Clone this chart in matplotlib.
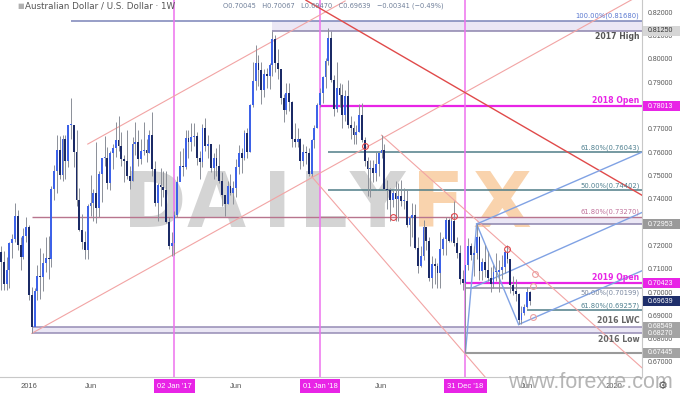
import numpy as np
import pandas as pd
import matplotlib
matplotlib.use("Agg")
import matplotlib.pyplot as plt
import matplotlib.dates as mdates
from matplotlib.patches import Rectangle
from matplotlib.transforms import blended_transform_factory

# ---------------- data (weekly AUD/USD, bars dated Monday) ----------------
first_week = "2015-10-19"
first_open = 0.7290
high_2015 = [0.7310, 0.7200, 0.7180, 0.7155, 0.7220, 0.7255, 0.7385, 0.7355, 0.7240, 0.7280, 0.7325]
low_2015 = [0.7145, 0.7015, 0.7015, 0.7015, 0.7020, 0.7150, 0.7220, 0.7185, 0.7100, 0.7145, 0.7220]
close_2015 = [0.7175, 0.7135, 0.7040, 0.7100, 0.7215, 0.7230, 0.7330, 0.7205, 0.7155, 0.7245, 0.7285]

high_2016 = [0.7290, 0.7025, 0.7020, 0.7120, 0.7195, 0.7170, 0.7240, 0.7245, 0.7460, 0.7550, 0.7680, 0.7675, 0.7680,
             0.7680, 0.7720, 0.7835, 0.7720, 0.7700, 0.7450, 0.7340, 0.7265, 0.7380, 0.7505, 0.7445, 0.7650, 0.7525,
             0.7570, 0.7675, 0.7625, 0.7610, 0.7640, 0.7735, 0.7758, 0.7690, 0.7590, 0.7700, 0.7545, 0.7670, 0.7735,
             0.7700, 0.7660, 0.7735, 0.7660, 0.7700, 0.7778, 0.7565, 0.7470, 0.7535, 0.7525, 0.7525, 0.7325, 0.7260]
low_2016 = [0.6970, 0.6827, 0.6865, 0.6970, 0.6975, 0.7010, 0.7090, 0.7060, 0.7110, 0.7400, 0.7430, 0.7490, 0.7480,
            0.7490, 0.7540, 0.7660, 0.7540, 0.7375, 0.7265, 0.7190, 0.7145, 0.7145, 0.7330, 0.7310, 0.7300, 0.7325,
            0.7390, 0.7545, 0.7445, 0.7440, 0.7530, 0.7585, 0.7610, 0.7545, 0.7475, 0.7490, 0.7445, 0.7480, 0.7590,
            0.7545, 0.7555, 0.7590, 0.7560, 0.7600, 0.7500, 0.7375, 0.7310, 0.7375, 0.7410, 0.7300, 0.7190, 0.7160]
close_2016 = [0.6990, 0.6855, 0.7010, 0.7075, 0.7070, 0.7130, 0.7150, 0.7145, 0.7445, 0.7525, 0.7615, 0.7505, 0.7660,
              0.7565, 0.7720, 0.7720, 0.7605, 0.7400, 0.7270, 0.7220, 0.7185, 0.7375, 0.7385, 0.7430, 0.7365, 0.7510,
              0.7580, 0.7580, 0.7470, 0.7600, 0.7620, 0.7655, 0.7630, 0.7575, 0.7565, 0.7500, 0.7480, 0.7640, 0.7650,
              0.7575, 0.7610, 0.7615, 0.7600, 0.7680, 0.7530, 0.7385, 0.7465, 0.7455, 0.7440, 0.7305, 0.7200, 0.7215]

high_2017 = [0.7350, 0.7500, 0.7610, 0.7620, 0.7700, 0.7700, 0.7730, 0.7730, 0.7690, 0.7610, 0.7725, 0.7750, 0.7680,
             0.7640, 0.7600, 0.7620, 0.7640, 0.7520, 0.7420, 0.7480, 0.7510, 0.7480, 0.7575, 0.7635, 0.7620, 0.7700,
             0.7710, 0.7810, 0.7990, 0.8065, 0.8020, 0.7990, 0.7960, 0.7965, 0.7985, 0.8125, 0.8105, 0.8045, 0.7960,
             0.7855, 0.7900, 0.7900, 0.7825, 0.7730, 0.7710, 0.7665, 0.7640, 0.7630, 0.7620, 0.7660, 0.7720, 0.7815]
low_2017 = [0.7165, 0.7325, 0.7480, 0.7500, 0.7530, 0.7580, 0.7610, 0.7630, 0.7550, 0.7490, 0.7540, 0.7610, 0.7580,
            0.7520, 0.7490, 0.7500, 0.7470, 0.7375, 0.7330, 0.7380, 0.7420, 0.7380, 0.7410, 0.7510, 0.7515, 0.7570,
            0.7580, 0.7605, 0.7800, 0.7870, 0.7890, 0.7810, 0.7840, 0.7880, 0.7875, 0.7930, 0.7950, 0.7920, 0.7810,
            0.7735, 0.7770, 0.7780, 0.7625, 0.7625, 0.7625, 0.7530, 0.7545, 0.7555, 0.7500, 0.7500, 0.7620, 0.7710]
close_2017 = [0.7335, 0.7475, 0.7545, 0.7540, 0.7665, 0.7650, 0.7670, 0.7675, 0.7580, 0.7560, 0.7710, 0.7630, 0.7640,
              0.7535, 0.7580, 0.7545, 0.7480, 0.7420, 0.7380, 0.7460, 0.7430, 0.7450, 0.7540, 0.7600, 0.7580, 0.7685,
              0.7605, 0.7805, 0.7910, 0.7985, 0.7955, 0.7870, 0.7940, 0.7930, 0.7980, 0.8090, 0.7985, 0.7960, 0.7835,
              0.7785, 0.7860, 0.7820, 0.7660, 0.7650, 0.7660, 0.7565, 0.7605, 0.7600, 0.7510, 0.7655, 0.7710, 0.7805]

high_2018 = [0.7880, 0.7930, 0.8010, 0.8136, 0.8125, 0.7935, 0.7990, 0.7900, 0.7895, 0.7870, 0.7915, 0.7760, 0.7740,
             0.7720, 0.7810, 0.7815, 0.7670, 0.7585, 0.7570, 0.7570, 0.7605, 0.7605, 0.7677, 0.7640, 0.7485, 0.7450,
             0.7440, 0.7480, 0.7470, 0.7485, 0.7450, 0.7445, 0.7330, 0.7385, 0.7380, 0.7240, 0.7200, 0.7315, 0.7280,
             0.7240, 0.7160, 0.7150, 0.7130, 0.7260, 0.7240, 0.7325, 0.7320, 0.7340, 0.7394, 0.7240, 0.7205, 0.7100,
             0.7080]
low_2018 = [0.7800, 0.7815, 0.7880, 0.7980, 0.7905, 0.7760, 0.7775, 0.7800, 0.7710, 0.7740, 0.7710, 0.7660, 0.7640,
            0.7640, 0.7690, 0.7650, 0.7545, 0.7415, 0.7410, 0.7475, 0.7480, 0.7500, 0.7580, 0.7440, 0.7360, 0.7310,
            0.7370, 0.7310, 0.7310, 0.7375, 0.7360, 0.7285, 0.7200, 0.7240, 0.7190, 0.7085, 0.7110, 0.7140, 0.7185,
            0.7050, 0.7020, 0.7040, 0.7020, 0.7020, 0.7165, 0.7165, 0.7220, 0.7220, 0.7200, 0.7150, 0.7040, 0.7015,
            0.6744]
close_2018 = [0.7860, 0.7925, 0.7995, 0.8095, 0.7915, 0.7790, 0.7880, 0.7850, 0.7765, 0.7845, 0.7720, 0.7710, 0.7680,
              0.7690, 0.7765, 0.7655, 0.7565, 0.7530, 0.7535, 0.7515, 0.7555, 0.7600, 0.7615, 0.7445, 0.7440, 0.7400,
              0.7430, 0.7405, 0.7415, 0.7395, 0.7395, 0.7290, 0.7320, 0.7335, 0.7195, 0.7115, 0.7160, 0.7285, 0.7225,
              0.7065, 0.7125, 0.7115, 0.7085, 0.7190, 0.7230, 0.7315, 0.7225, 0.7310, 0.7215, 0.7170, 0.7060, 0.7045,
              0.7120]

high_2019 = [0.7235, 0.7215, 0.7200, 0.7296, 0.7245, 0.7150, 0.7205, 0.7180, 0.7110, 0.7120, 0.7170, 0.7140,
             0.7165, 0.7185, 0.7206, 0.7145, 0.7075, 0.7060, 0.7000, 0.6945, 0.6955, 0.7025, 0.70067]
low_2019 = [0.7100, 0.7140, 0.7075, 0.7145, 0.7055, 0.7055, 0.7070, 0.7050, 0.7005, 0.7020, 0.7050, 0.7005,
            0.7060, 0.7085, 0.7130, 0.7000, 0.6990, 0.6965, 0.6865, 0.6865, 0.6905, 0.6935, 0.69470]
close_2019 = [0.7200, 0.7165, 0.7170, 0.7240, 0.7095, 0.7135, 0.7100, 0.7065, 0.7040, 0.7090, 0.7090, 0.7100,
              0.7110, 0.7175, 0.7145, 0.7035, 0.7010, 0.6995, 0.6885, 0.6915, 0.6940, 0.70045, 0.69639]

# horizontal levels: (price, start date)
level_100 = (0.81680, "2016-04-18")
level_2017_high = (0.81250, "2017-09-04")
level_2018_open = (0.78013, "2018-01-01")
level_fib_618a = (0.76043, "2018-01-22")
level_fib_50a = (0.74402, "2018-01-22")
level_fib_618b = (0.73270, "2016-01-11")
level_72953 = (0.72953, "2019-01-28")
level_2019_open = (0.70423, "2018-12-31")
level_fib_50b = (0.70199, "2018-12-31")
level_fib_618c = (0.69257, "2019-06-03")
level_2016_lwc = (0.68549, "2016-01-11")
level_2016_low = (0.68270, "2016-01-11")
level_67445 = (0.67445, "2018-12-31")
last_price = 0.69639

vline_dates = ["2017-01-02", "2018-01-01", "2018-12-31"]
vline_labels = ["02 Jan '17", "01 Jan '18", "31 Dec '18"]
xtick_dates = ["2016-01-04", "2016-06-06", "2017-06-05", "2018-06-04", "2019-06-03", "2020-01-06"]
xtick_labels = ["2016", "Jun", "Jun", "Jun", "Jun", "2020"]
ytick_values = [0.67, 0.68, 0.69, 0.70, 0.71, 0.72, 0.73, 0.74, 0.75, 0.76, 0.77, 0.78, 0.79, 0.80, 0.81, 0.82]

# trendlines: (date, price) anchors
asc_lower = [("2016-01-11", 0.6827), ("2020-03-20", 0.8286)]
asc_upper = [("2016-05-30", 0.7639), ("2018-03-05", 0.8253)]
red_desc = [("2017-11-27", 0.8256), ("2020-03-16", 0.7420)]
pink_desc_1 = [("2018-06-04", 0.7677), ("2020-03-16", 0.6680)]
pink_desc_2 = [("2017-12-11", 0.7500), ("2019-02-18", 0.6640)]
blue_upper = [("2019-01-28", 0.7296), ("2020-03-16", 0.7604)]
blue_median = [("2019-01-14", 0.7020), ("2020-03-16", 0.7345)]
blue_lower = [("2019-05-13", 0.6865), ("2020-03-16", 0.7095)]
blue_ab = [("2018-12-31", 0.6744), ("2019-01-28", 0.7296)]
blue_bc = [("2019-01-28", 0.7296), ("2019-05-13", 0.6865)]
circle_dates = ["2018-04-23", "2018-07-02", "2018-12-03", "2019-04-15", "2019-06-24", "2019-06-17", "2019-06-17"]
circle_prices = [0.7631, 0.7326, 0.7330, 0.7188, 0.7081, 0.7030, 0.6897]

# ---------------- assemble ----------------
highs = np.array(high_2015 + high_2016 + high_2017 + high_2018 + high_2019)
lows = np.array(low_2015 + low_2016 + low_2017 + low_2018 + low_2019)
closes = np.array(close_2015 + close_2016 + close_2017 + close_2018 + close_2019)
opens = np.concatenate([[first_open], closes[:-1]])
opens[-1] = 0.70045
dates = pd.date_range(first_week, periods=len(closes), freq="W-MON")
xd = mdates.date2num(dates.to_pydatetime())

def dn(s):
    return mdates.date2num(pd.Timestamp(s).to_pydatetime())

PX_PER_DAY = 0.3997
PX_PER_PRICE = 2331.0
x_left = dn("2016-01-04") - 29 / PX_PER_DAY
x_right = x_left + 642 / PX_PER_DAY
y_top = 0.82 + 13.3 / PX_PER_PRICE
y_bot = y_top - 377 / PX_PER_PRICE

fig = plt.figure(figsize=(6.8, 3.94), dpi=100)
fig.patch.set_facecolor("white")
ax = fig.add_axes([0, 17 / 394, 642 / 680, 377 / 394])
ax.set_xlim(x_left, x_right)
ax.set_ylim(y_bot, y_top)
ax.set_xticks([])
ax.set_yticks([])
for s in ["top", "left"]:
    ax.spines[s].set_visible(False)
for s in ["right", "bottom"]:
    ax.spines[s].set_color("#c8c8c8")
    ax.spines[s].set_linewidth(0.8)

MAG = "#e824e6"
MAG_V = "#ee72ee"
LAV = "#ebe7f5"

# watermark
wm_letters = ["D", "A", "I", "L", "Y", "F", "X"]
wm_x = [155, 216, 277, 323, 377, 438, 502]
for ch, px in zip(wm_letters, wm_x):
    col = "#d4d4d4" if ch not in "FX" else "#f9d3ad"
    ax.text(px / 642, 1 - 227 / 377, ch, transform=ax.transAxes, fontsize=55, fontweight="bold",
            color=col, ha="center", va="baseline", zorder=0, family="DejaVu Sans")

def hzone(p1, p2, start, zorder=1):
    ax.fill_between([dn(start), x_right], p1, p2, color=LAV, zorder=zorder, lw=0)

hzone(level_100[0], level_2017_high[0], level_2017_high[1])
hzone(level_fib_618b[0], level_72953[0], level_72953[1])
hzone(level_2016_lwc[0], level_2016_low[0], level_2016_low[1])

def hline(level, color, lw=1.1, z=2):
    ax.plot([dn(level[1]), x_right], [level[0], level[0]], color=color, lw=lw, zorder=z, solid_capstyle="butt")

hline(level_100, "#7a84b8")
hline(level_2017_high, "#8d84ad")
hline(level_2018_open, MAG, lw=1.6)
hline(level_fib_618a, "#4f7d88")
hline(level_fib_50a, "#4f7d88")
hline(level_fib_618b, "#b8758e", lw=1.0)
hline(level_72953, "#8d84ad")
hline(level_2019_open, MAG, lw=1.6)
hline(level_fib_50b, "#8a8a9c")
hline(level_fib_618c, "#4f7d88")
hline(level_2016_lwc, "#968cb5")
hline(level_2016_low, "#968cb5")
hline(level_67445, "#9a9a9a", lw=1.5)

for d in vline_dates:
    ax.axvline(dn(d), color=MAG_V, lw=1.1, zorder=2)

def tline(pts, color, lw=0.9, z=3):
    ax.plot([dn(p[0]) for p in pts], [p[1] for p in pts], color=color, lw=lw, zorder=z)

tline(asc_lower, "#f2a4a4", lw=0.8)
tline(asc_upper, "#f2a4a4", lw=0.8)
tline(pink_desc_1, "#f2a4a4", lw=0.8)
tline(pink_desc_2, "#f2a4a4", lw=0.8)
tline(red_desc, "#e04a4a", lw=1.0)
BLUE = "#80a2e4"
for pts in [blue_upper, blue_median, blue_lower, blue_ab, blue_bc]:
    tline(pts, BLUE, lw=1.0)

# candles
body_w = 4.6
up = closes >= opens
ax.vlines(xd, lows, highs, color="#8b8f98", lw=0.7, zorder=4)
heights = np.where(np.abs(closes - opens) < 0.0004, 0.0004 * np.sign(closes - opens + 1e-9), closes - opens)
ax.bar(xd[up], heights[up], bottom=opens[up], width=body_w, color="#3d62e8", zorder=5, lw=0)
ax.bar(xd[~up], heights[~up], bottom=opens[~up], width=body_w, color="#1b2a66", zorder=5, lw=0)

ax.plot([dn(d) for d in circle_dates[:4]], circle_prices[:4], "o", ms=4.2, mfc="none", mec="#e0484d", mew=0.8, zorder=6)
ax.plot([dn(d) for d in circle_dates[4:]], circle_prices[4:], "o", ms=4.2, mfc="none", mec="#eca0a0", mew=0.8, zorder=6)

def rlabel(price, text, color, above=True, bold=False, size=4.9):
    ax.text(0.996, price + (0.0006 if above else -0.0006), text, transform=ax.get_yaxis_transform(),
            ha="right", va="bottom" if above else "top", fontsize=size, color=color,
            fontweight="bold" if bold else "normal", zorder=7)

rlabel(level_100[0], "100.00%(0.81680)", "#5a78d0")
rlabel(level_2017_high[0], "2017 High", "#555555", above=False, bold=True, size=5.6)
rlabel(level_2018_open[0], "2018 Open", MAG, bold=True, size=5.6)
rlabel(level_fib_618a[0], "61.80%(0.76043)", "#4f8090")
rlabel(level_fib_50a[0], "50.00%(0.74402)", "#4f8090")
rlabel(level_fib_618b[0], "61.80%(0.73270)", "#c0709a")
rlabel(level_2019_open[0], "2019 Open", MAG, bold=True, size=5.6)
rlabel(level_fib_50b[0], "50.00%(0.70199)", "#7a88a0", above=False)
rlabel(level_fib_618c[0], "61.80%(0.69257)", "#4f8090")
rlabel(level_2016_lwc[0], "2016 LWC", "#666666", bold=True, size=5.6)
rlabel(level_2016_low[0], "2016 Low", "#666666", above=False, bold=True, size=5.6)

# price axis
ytr = ax.get_yaxis_transform()
for v in ytick_values:
    if y_bot < v < y_top:
        ax.text(1.0095, v, f"{v:.5f}", transform=ytr, ha="left", va="center", fontsize=5.0,
                color="#555555", family="Liberation Sans", clip_on=False)

ftr = blended_transform_factory(fig.transFigure, ax.transData)
box_h = 10 / PX_PER_PRICE

def pbox(price, fc, tc="white"):
    fig.patches.append(Rectangle((642.5 / 680, price - box_h / 2), 37.5 / 680, box_h, transform=ftr,
                                 fc=fc, ec="none", zorder=9))
    fig.text(648 / 680, price, f"{price:.5f}", transform=ftr, ha="left", va="center", fontsize=5.0,
             color=tc, family="Liberation Sans", zorder=10)

pbox(level_2017_high[0], "#d6d6d6", "#333333")
pbox(level_2018_open[0], MAG)
pbox(level_72953[0], "#9a9a9a")
pbox(level_2019_open[0], MAG)
pbox(level_2016_lwc[0], "#a3a3a3")
pbox(level_2016_low[0], "#a3a3a3")
pbox(level_67445[0], "#a3a3a3")
pbox(last_price, "#1f2f6b")

# time axis
xtr = ax.get_xaxis_transform()
for d, lab in zip(xtick_dates, xtick_labels):
    ax.text(dn(d), -0.024, lab, transform=xtr, ha="center", va="center", fontsize=5.5,
            color="#555555", family="Liberation Sans", clip_on=False)
for d, lab in zip(vline_dates, vline_labels):
    ax.text(dn(d), -0.024, lab, transform=xtr, ha="center", va="center", fontsize=5.5,
            color="white", family="Liberation Sans", clip_on=False, zorder=10,
            bbox=dict(boxstyle="square,pad=0.4", fc=MAG, ec="none"))

# title / legend
fig.text(17 / 680, 1 - 6 / 394, "\u25a0", fontsize=5, color="#b0b0b0", va="center", ha="left")
fig.text(25 / 680, 1 - 6 / 394, "Australian Dollar / U.S. Dollar \u00b7 1W", fontsize=6.3,
         color="#555555", va="center", ha="left", family="DejaVu Sans")
fig.text(223 / 680, 1 - 6 / 394, "O0.70045   H0.70067   L0.69470   C0.69639   \u22120.00341 (\u22120.49%)",
         fontsize=4.8, color="#6f7f99", va="center", ha="left", family="DejaVu Sans")

fig.text(590 / 680, (394 - 388) / 394, "www.forexre.com", fontsize=15.5, color="#a8a8a8",
         ha="center", va="baseline", family="Liberation Sans", alpha=0.85)
fig.text(663 / 680, (394 - 386) / 394, "\u2699", fontsize=8, color="#555555", ha="center", va="center",
         family="DejaVu Sans")

fig.savefig("out.png", dpi=100)
